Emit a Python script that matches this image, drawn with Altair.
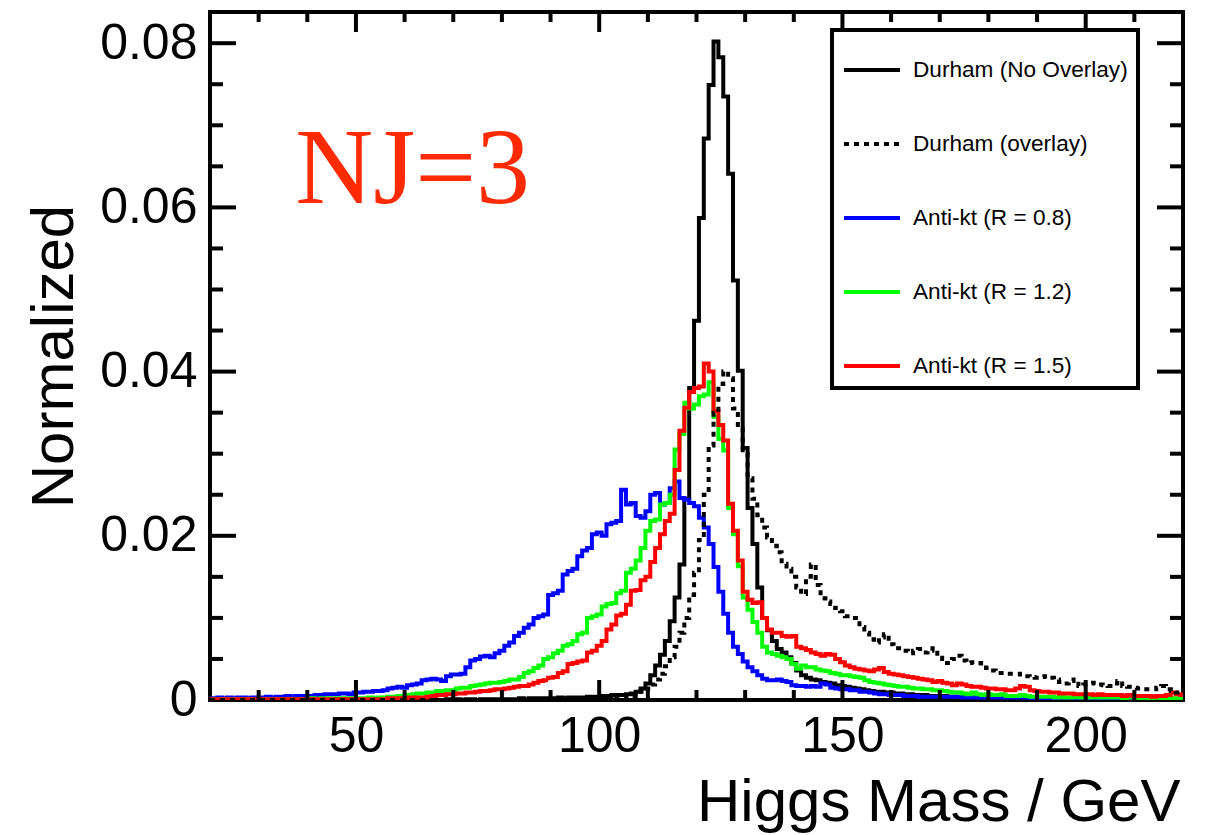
import altair as alt
import pandas as pd

# ---------------- data (values in units of 1e-4, one per 1 GeV bin, bin centres 20..220) -------------
mass = list(range(20, 221))
SCALE = 1e-4

durham_no_overlay = [
    0, 0, 0, 0, 0, 0, 0, 0, 0, 0,
    0, 0, 0, 0, 0, 0, 0, 0, 0, 0,
    0, 0, 0, 0, 0, 0, 0, 0, 0, 0,
    0, 0, 0, 0, 0, 0, 0, 0, 0, 0,
    0, 0, 0, 0, 0, 0, 0, 0, 0, 1,
    0, 1, 0, 1, 1, 0, 1, 1, 1, 1,
    1, 1, 1, 1, 2, 1, 2, 2, 2, 2,
    2, 2, 3, 2, 3, 3, 3, 3, 4, 4,
    4, 5, 5, 6, 6, 6, 7, 8, 10, 14,
    20, 30, 42, 55, 72, 96, 125, 165, 245, 380,
    462, 587, 684, 749, 802, 783, 735, 641, 511, 401,
    307, 234, 190, 137, 100, 85, 72, 62, 58, 52,
    45, 36, 30, 27, 25, 24, 22, 21, 20, 18,
    17, 16, 15, 14, 13, 12, 11, 10, 10, 9,
    9, 8, 8, 7, 7, 6, 6, 6, 5, 5,
    5, 5, 4, 4, 4, 4, 3, 3, 3, 3,
    3, 3, 3, 3, 2, 2, 2, 2, 2, 2,
    2, 2, 2, 2, 2, 1, 2, 1, 1, 1,
    1, 1, 1, 1, 1, 1, 1, 1, 1, 1,
    1, 1, 1, 0, 1, 1, 0, 1, 1, 1,
    1,
]

durham_overlay = [
    0, 0, 0, 0, 0, 0, 0, 0, 0, 0,
    0, 0, 0, 0, 0, 0, 0, 0, 0, 0,
    0, 0, 0, 0, 0, 0, 0, 0, 0, 0,
    0, 0, 0, 0, 0, 0, 0, 0, 0, 0,
    0, 0, 0, 0, 0, 0, 0, 0, 0, 0,
    0, 0, 0, 0, 0, 0, 0, 0, 0, 0,
    0, 0, 0, 0, 0, 0, 1, 0, 0, 1,
    0, 1, 1, 1, 1, 1, 1, 1, 2, 2,
    2, 2, 2, 3, 3, 3, 4, 5, 7, 10,
    14, 19, 25, 32, 41, 52, 65, 82, 100, 128,
    155, 195, 250, 310, 350, 385, 400, 392, 355, 330,
    300, 270, 245, 225, 210, 198, 188, 180, 166, 160,
    150, 137, 129, 150, 165, 140, 124, 120, 117, 112,
    108, 102, 100, 100, 89, 82, 74, 70, 76, 80,
    68, 63, 63, 60, 57, 60, 62, 58, 60, 63,
    54, 50, 45, 50, 54, 48, 45, 46, 45, 42,
    39, 36, 33, 33, 32, 32, 32, 31, 29, 28,
    27, 28, 29, 27, 25, 22, 20, 23, 25, 17,
    19, 20, 21, 19, 18, 17, 20, 23, 17, 16,
    15, 14, 13, 13, 13, 15, 17, 13, 11, 9,
    10,
]

antikt_08 = [
    2, 2, 3, 2, 3, 2, 3, 3, 2, 3,
    3, 3, 4, 3, 4, 4, 5, 4, 5, 5,
    4, 5, 6, 6, 7, 7, 7, 8, 8, 7,
    9, 9, 10, 10, 11, 11, 12, 14, 15, 16,
    15, 18, 19, 20, 24, 25, 26, 25, 23, 29,
    31, 31, 32, 40, 48, 50, 53, 54, 52, 57,
    60, 66, 70, 78, 82, 88, 92, 100, 102, 104,
    128, 130, 133, 153, 157, 160, 175, 182, 185, 202,
    204, 200, 214, 216, 218, 256, 238, 240, 224, 222,
    230, 250, 252, 238, 240, 258, 266, 246, 244, 240,
    236, 222, 210, 190, 162, 132, 105, 82, 65, 56,
    47, 40, 35, 30, 26, 24, 24, 25, 23, 22,
    18, 17, 17, 16, 17, 16, 20, 19, 15, 14,
    13, 13, 12, 12, 10, 10, 9, 8, 7, 7,
    6, 6, 6, 5, 5, 5, 4, 4, 4, 4,
    4, 4, 4, 4, 4, 3, 3, 3, 3, 3,
    3, 3, 3, 3, 3, 3, 3, 3, 3, 2,
    3, 2, 3, 2, 2, 2, 2, 2, 2, 2,
    2, 2, 2, 2, 2, 2, 1, 2, 2, 1,
    2, 1, 1, 2, 1, 1, 1, 1, 1, 1,
    1,
]

antikt_12 = [
    1, 1, 1, 1, 1, 1, 1, 1, 1, 1,
    1, 1, 1, 1, 1, 1, 1, 1, 1, 1,
    1, 2, 1, 2, 2, 2, 2, 2, 2, 2,
    2, 2, 2, 3, 2, 3, 3, 4, 4, 5,
    5, 6, 7, 8, 8, 9, 9, 11, 11, 12,
    12, 14, 15, 15, 17, 18, 19, 20, 21, 21,
    22, 23, 25, 25, 28, 33, 35, 39, 42, 50,
    52, 57, 60, 66, 68, 72, 80, 82, 100, 102,
    104, 114, 117, 118, 130, 133, 155, 160, 170, 185,
    206, 218, 220, 238, 240, 250, 305, 324, 362, 355,
    360, 370, 372, 387, 345, 318, 304, 234, 202, 163,
    125, 110, 95, 82, 65, 58, 56, 54, 52, 50,
    44, 38, 42, 40, 40, 37, 36, 35, 33, 32,
    30, 30, 29, 28, 27, 24, 22, 21, 20, 19,
    18, 17, 16, 16, 15, 14, 14, 13, 13, 12,
    12, 11, 10, 9, 9, 8, 7, 9, 7, 6,
    7, 6, 6, 7, 5, 5, 5, 6, 5, 4,
    4, 4, 4, 4, 3, 4, 3, 3, 4, 3,
    3, 3, 3, 3, 3, 3, 3, 3, 2, 3,
    3, 2, 3, 2, 2, 3, 2, 2, 2, 2,
    2,
]

antikt_15 = [
    1, 1, 1, 1, 1, 1, 1, 1, 1, 1,
    1, 1, 1, 1, 1, 1, 1, 1, 1, 1,
    1, 1, 1, 1, 1, 1, 1, 1, 1, 1,
    1, 1, 1, 1, 1, 1, 1, 2, 2, 2,
    2, 3, 3, 3, 3, 4, 5, 6, 6, 7,
    7, 8, 8, 9, 9, 10, 11, 11, 12, 13,
    13, 14, 15, 16, 17, 17, 19, 21, 23, 24,
    27, 28, 33, 35, 44, 45, 47, 48, 58, 60,
    66, 72, 86, 92, 103, 105, 116, 133, 134, 146,
    150, 168, 185, 202, 218, 227, 280, 328, 356, 375,
    380, 382, 410, 400, 352, 335, 316, 239, 206, 170,
    132, 122, 118, 119, 100, 86, 82, 82, 78, 77,
    78, 65, 63, 61, 58, 56, 54, 56, 55, 50,
    46, 42, 40, 38, 37, 36, 35, 37, 39, 34,
    32, 31, 30, 29, 28, 27, 26, 25, 24, 22,
    23, 21, 20, 18, 20, 19, 17, 16, 16, 15,
    14, 14, 13, 13, 12, 12, 14, 17, 16, 12,
    11, 10, 10, 9, 9, 8, 8, 8, 7, 7,
    7, 7, 6, 7, 6, 6, 6, 6, 5, 6,
    5, 5, 5, 5, 4, 5, 5, 6, 9, 7,
    6,
]

series_names = [
    "Durham (No Overlay)",
    "Durham (overlay)",
    "Anti-kt (R = 0.8)",
    "Anti-kt (R = 1.2)",
    "Anti-kt (R = 1.5)",
]
series_values = [durham_no_overlay, durham_overlay, antikt_08, antikt_12, antikt_15]
series_colors = ["#000000", "#000000", "#0000ff", "#00ff00", "#ff0000"]
series_dashes = [[1, 0], [5, 5], [1, 0], [1, 0], [1, 0]]
draw_order = [0, 2, 3, 4, 1]

x_labels = [50, 100, 150, 200]
x_minor = [30, 40, 60, 70, 80, 90, 110, 120, 130, 140, 160, 170, 180, 190, 210]
y_labels = [0, 0.02, 0.04, 0.06, 0.08]
y_major = [0.02, 0.04, 0.06, 0.08]
y_minor = [0.005, 0.01, 0.015, 0.025, 0.03, 0.035, 0.045, 0.05, 0.055, 0.065, 0.07, 0.075]

note_text = ["NJ=3"]
note_mass = [37.5]
note_value = [0.0605]

# ---------------- build table ----------------
rows = []
for name, vals in zip(series_names, series_values):
    assert len(vals) == len(mass), (name, len(vals))
    for m, v in zip(mass, vals):
        rows.append({"mass": m, "value": v * SCALE, "series": name})
df = pd.DataFrame(rows)

FONT = "Liberation Sans"
W, H = 973, 688
xs = alt.Scale(domain=[20, 220], nice=False, zero=False)
ys = alt.Scale(domain=[0, 0.0838], nice=False, zero=False)

x_axis = alt.Axis(
    values=x_labels, ticks=False, domain=False, grid=False,
    labelFont=FONT, labelFontSize=50, labelColor="black", labelPadding=11,
    title="Higgs Mass / GeV", titleFont=FONT, titleFontSize=60, titleFontWeight="normal",
    titleColor="black", titleX=970, titleY=120, titleAlign="right", titleBaseline="alphabetic",
)
y_axis = alt.Axis(
    values=y_labels, labelExpr="datum.value == 0 ? '0' : format(datum.value, '.2f')",
    ticks=False, domain=False, grid=False,
    labelFont=FONT, labelFontSize=50, labelColor="black", labelPadding=13,
    title="Normalized", titleFont=FONT, titleFontSize=60, titleFontWeight="normal",
    titleColor="black", titleX=-138, titleY=344, titleAlign="center",
    titleBaseline="alphabetic", titleAngle=270,
)

leg = alt.Legend(
    title=None, orient="none", legendX=622, legendY=18,
    symbolType="stroke", symbolSize=3136, symbolStrokeWidth=4,
    labelFont=FONT, labelFontSize=22.6, labelColor="black", labelOffset=11,
    rowPadding=32, padding=10, strokeColor="black", fillColor="white", labelLimit=500,
)
color_enc = alt.Color("series:N", scale=alt.Scale(domain=series_names, range=series_colors), legend=leg)
dash_enc = alt.StrokeDash("series:N", scale=alt.Scale(domain=series_names, range=series_dashes), legend=leg)

base = alt.Chart(df)
line_layers = []
for idx in draw_order:
    name = series_names[idx]
    line_layers.append(
        base.transform_filter(alt.datum.series == name)
        .mark_line(interpolate="step", strokeWidth=4, clip=True)
        .encode(
            x=alt.X("mass:Q", scale=xs, axis=x_axis),
            y=alt.Y("value:Q", scale=ys, axis=y_axis),
            color=color_enc,
            strokeDash=dash_enc,
        )
    )


def xticks(vals, length):
    d = alt.Chart(pd.DataFrame({"mass": vals}))
    bottom = d.mark_rule(color="black", strokeWidth=4).encode(
        x=alt.X("mass:Q", scale=xs, axis=x_axis), y=alt.value(H), y2=alt.value(H - length))
    top = d.mark_rule(color="black", strokeWidth=4).encode(
        x=alt.X("mass:Q", scale=xs, axis=x_axis), y=alt.value(0), y2=alt.value(length))
    return [bottom, top]


def yticks(vals, length):
    d = alt.Chart(pd.DataFrame({"value": vals}))
    left = d.mark_rule(color="black", strokeWidth=4).encode(
        y=alt.Y("value:Q", scale=ys, axis=y_axis), x=alt.value(0), x2=alt.value(length))
    right = d.mark_rule(color="black", strokeWidth=4).encode(
        y=alt.Y("value:Q", scale=ys, axis=y_axis), x=alt.value(W), x2=alt.value(W - length))
    return [left, right]


tick_layers = xticks(x_labels, 20) + xticks(x_minor, 10) + yticks(y_major, 26) + yticks(y_minor, 13)

note = alt.Chart(pd.DataFrame({"mass": note_mass, "value": note_value, "t": note_text})).mark_text(
    font="Liberation Serif", fontSize=108, color="#ff2a00", align="left", baseline="alphabetic"
).encode(
    x=alt.X("mass:Q", scale=xs, axis=x_axis),
    y=alt.Y("value:Q", scale=ys, axis=y_axis),
    text="t:N",
)

chart = (
    alt.layer(*line_layers, *tick_layers, note)
    .properties(
        width=W, height=H,
        autosize=alt.AutoSizeParams(type="none"),
        padding={"left": 210, "top": 12, "right": 26, "bottom": 135},
        background="white",
    )
    .configure_view(stroke="black", strokeWidth=4)
    .configure_legend(strokeWidth=4)
)

chart.save("out.html", embed_options={"renderer": "svg", "actions": False})
